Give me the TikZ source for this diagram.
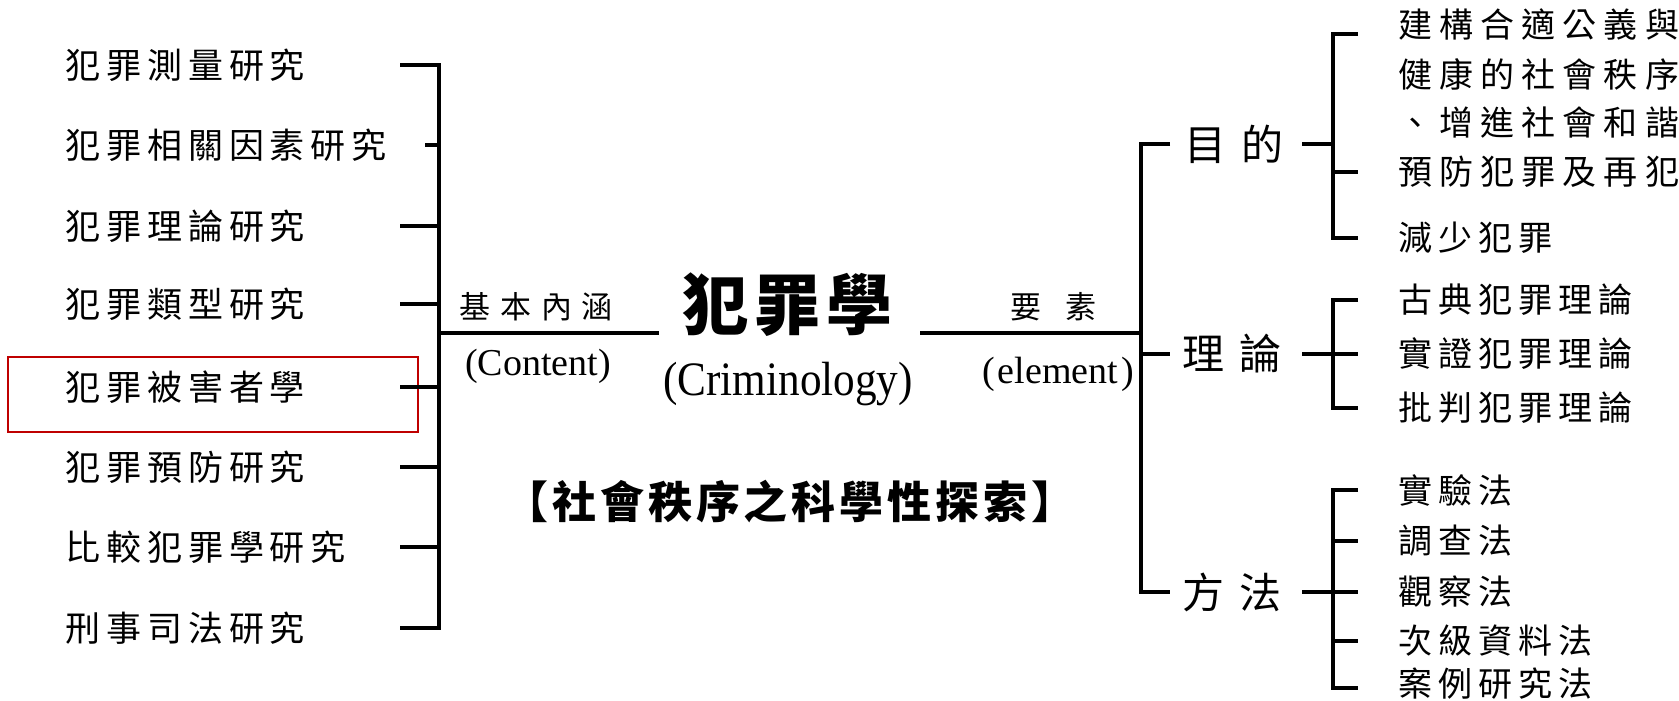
\documentclass[tikz,border=0pt]{standalone}
\usepackage{fontspec}
\setmainfont{Liberation Serif}
\newfontfamily\cjk{Noto Sans CJK TC}
\begin{document}
\begin{tikzpicture}[x=1pt,y=-1pt,
  br/.style={line width=4pt, line join=miter},
  hilite/.style={draw=red!75!black, line width=2pt, inner sep=0pt},
  leftitem/.style={anchor=west, inner sep=0pt, font=\cjk\fontsize{35}{35}\selectfont\addfontfeature{LetterSpace=17}},
  goalitem/.style={anchor=west, inner sep=0pt, font=\cjk\fontsize{34}{34}\selectfont\addfontfeature{LetterSpace=21}},
  subitem/.style={anchor=west, inner sep=0pt, font=\cjk\fontsize{34}{34}\selectfont\addfontfeature{LetterSpace=18}},
  midlabel/.style={anchor=west, inner sep=0pt, font=\cjk\fontsize{31}{31}\selectfont\addfontfeature{LetterSpace=32}},
  widelabel/.style={anchor=west, inner sep=0pt, font=\cjk\fontsize{31}{31}\selectfont\addfontfeature{LetterSpace=80}},
  branch/.style={anchor=west, inner sep=0pt, font=\cjk\fontsize{42}{42}\selectfont\addfontfeature{LetterSpace=36}},
  latin/.style={inner sep=0pt, font=\fontsize{38}{38}\selectfont},
  titlebig/.style={anchor=west, inner sep=0pt, font=\cjk\bfseries\fontsize{66}{66}\selectfont\addfontfeature{LetterSpace=9}},
  titlelatin/.style={inner sep=0pt, font=\fontsize{48}{48}\selectfont},
  motto/.style={inner sep=0pt, font=\cjk\bfseries\fontsize{44}{44}\selectfont\addfontfeature{LetterSpace=9}}
]
\useasboundingbox[fill=white] (0,0) rectangle (1679,701);

% ---------- left column ----------
\node[leftitem] (l1) at (65,65)  {犯罪測量研究};
\node[leftitem] (l2) at (65,145) {犯罪相關因素研究};
\node[leftitem] (l3) at (65,226) {犯罪理論研究};
\node[leftitem] (l4) at (65,304) {犯罪類型研究};
\node[leftitem] (l5) at (65,387) {犯罪被害者學};
\node[leftitem] (l6) at (65,467) {犯罪預防研究};
\node[leftitem] (l7) at (65,547) {比較犯罪學研究};
\node[leftitem] (l8) at (65,628) {刑事司法研究};

\node[hilite, minimum width=410pt, minimum height=75pt] (hl) at (213,394.5) {};

\coordinate (a1) at (400,65);  \coordinate (v1) at (439,65);
\coordinate (a2) at (425,145); \coordinate (v2) at (439,145);
\coordinate (a3) at (400,226); \coordinate (v3) at (439,226);
\coordinate (a4) at (400,304); \coordinate (v4) at (439,304);
\coordinate (a5) at (400,387); \coordinate (v5) at (439,387);
\coordinate (a6) at (400,467); \coordinate (v6) at (439,467);
\coordinate (a7) at (400,547); \coordinate (v7) at (439,547);
\coordinate (a8) at (400,628); \coordinate (v8) at (439,628);
\draw[br] (a1) -- (v1) -- (v8) -- (a8);
\foreach \i in {2,...,7} { \draw[br] (a\i) -- (v\i); }

% ---------- centre ----------
\coordinate (vm) at (439,333);
\coordinate (m1) at (659,333);
\coordinate (m2) at (920,333);
\coordinate (rm) at (1141,333);
\draw[br] (vm) -- (m1);
\draw[br] (m2) -- (rm);

\node[midlabel] (content) at (459,307) {基本內涵};
\node[latin] (contentEn) at (538,366) {(Content)};
\node[titlebig] (crim) at (682,305) {犯罪學};
\node[titlelatin] (crimEn) at (788,384) {\scalebox{0.9}[1]{(Criminology)}};
\node[widelabel] (elem) at (1010,307) {要素};
\node[latin] (elemEn) at (1058,374) {(\kern3pt element\kern3pt)};
\node[motto] (motto) at (790,502) {【社會秩序之科學性探索】};

% ---------- right main bracket ----------
\coordinate (r1) at (1141,144); \coordinate (s1) at (1170,144);
\coordinate (r2) at (1141,354); \coordinate (s2) at (1170,354);
\coordinate (r3) at (1141,592); \coordinate (s3) at (1170,592);
\draw[br] (s1) -- (r1) -- (r3) -- (s3);
\draw[br] (r2) -- (s2);

\node[branch] (goal) at (1184,144) {目的};
\node[branch] (theo) at (1182,354) {理論};
\node[branch] (meth) at (1182,592) {方法};

% ---------- goal bracket ----------
\coordinate (g0) at (1302,144); \coordinate (gb) at (1333,144);
\coordinate (gt) at (1333,34);  \coordinate (gte) at (1358,34);
\coordinate (gm) at (1333,172); \coordinate (gme) at (1358,172);
\coordinate (gd) at (1333,238); \coordinate (gde) at (1358,238);
\draw[br] (gte) -- (gt) -- (gd) -- (gde);
\draw[br] (gm) -- (gme);
\draw[br] (g0) -- (gb);

\node[goalitem] (g1) at (1398,25)  {建構合適公義與};
\node[goalitem] (g2) at (1398,74)  {健康的社會秩序};
\node[goalitem] (g3) at (1398,123) {、增進社會和諧};
\node[goalitem] (g4) at (1398,172) {預防犯罪及再犯};
\node[subitem] (g5) at (1398,238) {減少犯罪};

% ---------- theory bracket ----------
\coordinate (t0) at (1302,354);
\coordinate (tt) at (1333,300); \coordinate (tte) at (1358,300);
\coordinate (tm) at (1333,354); \coordinate (tme) at (1358,354);
\coordinate (td) at (1333,408); \coordinate (tde) at (1358,408);
\draw[br] (tte) -- (tt) -- (td) -- (tde);
\draw[br] (t0) -- (tme);

\node[subitem] (t1) at (1398,300) {古典犯罪理論};
\node[subitem] (t2) at (1398,354) {實證犯罪理論};
\node[subitem] (t3) at (1398,408) {批判犯罪理論};

% ---------- method bracket ----------
\coordinate (k0) at (1302,592);
\coordinate (ka) at (1333,490); \coordinate (kae) at (1358,490);
\coordinate (kb) at (1333,541); \coordinate (kbe) at (1358,541);
\coordinate (kc) at (1333,592); \coordinate (kce) at (1358,592);
\coordinate (kd) at (1333,641); \coordinate (kde) at (1358,641);
\coordinate (ke) at (1333,688); \coordinate (kee) at (1358,688);
\draw[br] (kae) -- (ka) -- (ke) -- (kee);
\draw[br] (kb) -- (kbe);
\draw[br] (k0) -- (kce);
\draw[br] (kd) -- (kde);

\node[subitem] (k1) at (1398,490) {實驗法};
\node[subitem] (k2) at (1398,541) {調查法};
\node[subitem] (k3) at (1398,592) {觀察法};
\node[subitem] (k4) at (1398,641) {次級資料法};
\node[subitem] (k5) at (1398,684) {案例研究法};
\end{tikzpicture}
\end{document}
